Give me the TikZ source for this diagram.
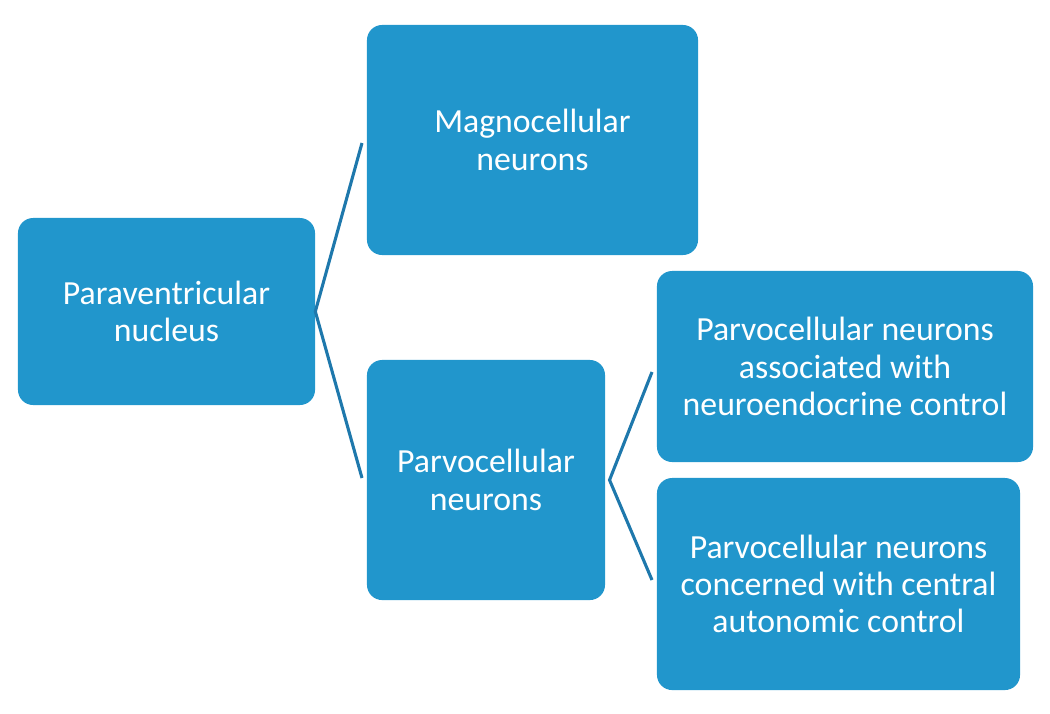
\documentclass[tikz,border=0pt]{standalone}
\usepackage{fontspec}
\setmainfont{Carlito}
\usepackage{xcolor}
\usetikzlibrary{positioning}
\definecolor{boxblue}{RGB}{33,150,204}
\definecolor{lineblue}{RGB}{30,120,172}
\tikzstyle{box} = [rectangle, rounded corners=0.38cm, fill=boxblue, draw=none, text=white, align=center, font=\fontsize{24}{26.5}\selectfont]
\tikzstyle{link} = [line width=2.2pt, draw=lineblue]

\begin{document}
\begin{tikzpicture}[x=0.025cm, y=-0.025cm]
\useasboundingbox (0,0) rectangle (1050,713);
\node[box, minimum width=7.425cm, minimum height=4.675cm] (pvn) at (166.5,311.5) {Paraventricular\\nucleus};
\node[box, minimum width=8.275cm, minimum height=5.75cm] (magno) at (532.5,140) {Magnocellular\\neurons};
\node[box, minimum width=5.95cm, minimum height=6cm] (parvo) at (486,480) {Parvocellular\\neurons};
\node[box, minimum width=9.4cm, minimum height=4.775cm] (neuroendo) at (845,366.5) {Parvocellular neurons\\associated with\\neuroendocrine control};
\node[box, minimum width=9.075cm, minimum height=5.3cm] (autonomic) at (838.5,584) {Parvocellular neurons\\concerned with central\\autonomic control};
\coordinate (magnoend) at (362,143);
\coordinate (parvoend) at (362,478);
\coordinate (neuroendoend) at (652,372);
\coordinate (autonomicend) at (652,580);
\draw[link] (magnoend) -- (pvn.east) -- (parvoend);
\draw[link] (neuroendoend) -- ([xshift=3]parvo.east) -- (autonomicend);
\end{tikzpicture}
\end{document}
